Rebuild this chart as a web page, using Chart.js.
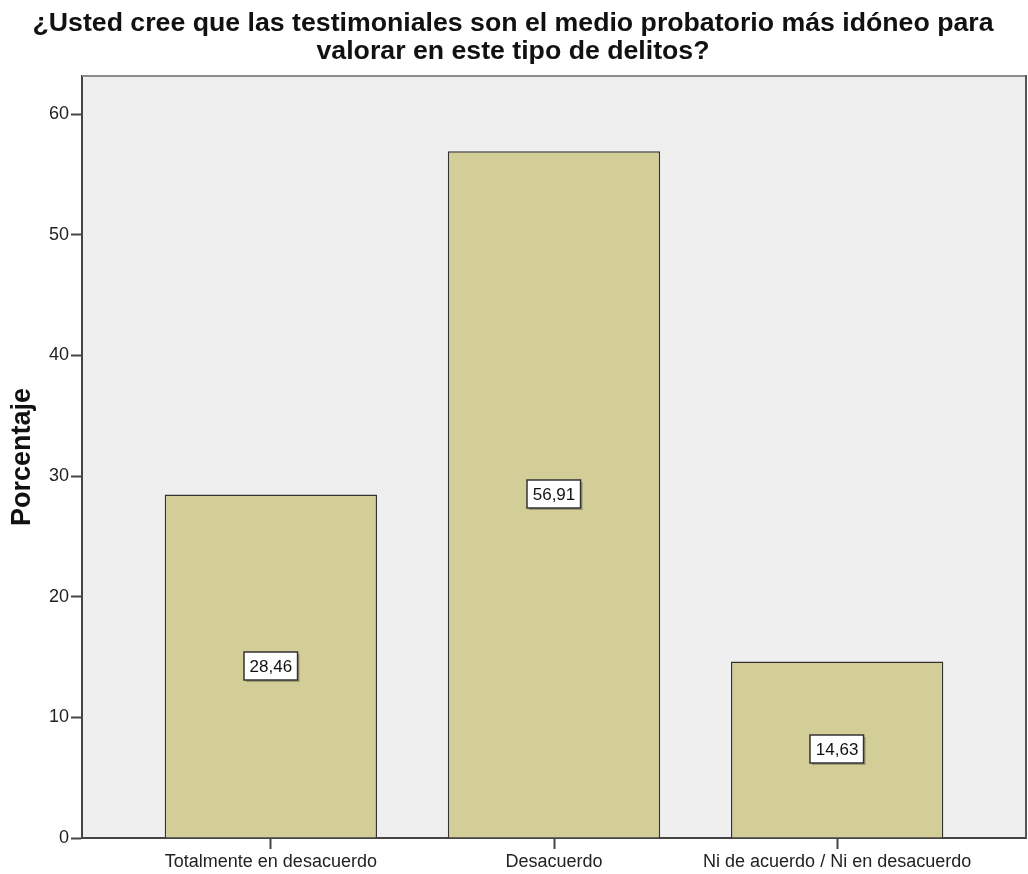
<!DOCTYPE html>
<html>
<head>
<meta charset="utf-8">
<script src="https://cdn.jsdelivr.net/npm/chart.js@4.4.1/dist/chart.umd.min.js"></script>
<style>
  html, body { margin: 0; padding: 0; background: #fff; }
  #wrap { width: 1028px; height: 874px; position: relative; }
</style>
</head>
<body>
<div id="wrap"><canvas id="chart"></canvas></div>
<script>
const titleLines = [
  '¿Usted cree que las testimoniales son el medio probatorio más idóneo para',
  'valorar en este tipo de delitos?',
];
const categories = ['Totalmente en desacuerdo', 'Desacuerdo', 'Ni de acuerdo / Ni en desacuerdo'];
const percentages = [28.46, 56.91, 14.63];
const yTicks = [0, 10, 20, 30, 40, 50, 60];
const yTitle = 'Porcentaje';

const FONT = "'Liberation Sans', Arial, sans-serif";

// plot background + top/right frame lines
const framePlugin = {
  id: 'frame',
  beforeDraw(chart) {
    const { ctx, chartArea: a } = chart;
    ctx.save();
    ctx.fillStyle = '#efefef';
    ctx.fillRect(a.left, a.top, a.right - a.left, a.bottom - a.top);
    ctx.restore();
  },
  afterDraw(chart) {
    const { ctx, chartArea: a } = chart;
    ctx.save();
    ctx.lineWidth = 2;
    ctx.strokeStyle = '#8c8c8c';
    ctx.beginPath();
    ctx.moveTo(a.left, a.top);
    ctx.lineTo(a.right, a.top);
    ctx.stroke();
    ctx.strokeStyle = '#555';
    ctx.beginPath();
    ctx.moveTo(a.right, a.top - 1);
    ctx.lineTo(a.right, a.bottom);
    ctx.stroke();
    ctx.restore();
  },
};

// value boxes in the middle of each bar
const boxLabels = {
  id: 'boxLabels',
  afterDatasetsDraw(chart) {
    const { ctx } = chart;
    const meta = chart.getDatasetMeta(0);
    ctx.save();
    ctx.font = '17px ' + FONT;
    ctx.textAlign = 'center';
    ctx.textBaseline = 'middle';
    meta.data.forEach((bar, i) => {
      const txt = percentages[i].toFixed(2).replace('.', ',');
      const w = ctx.measureText(txt).width + 11;
      const h = 28;
      const cx = bar.x;
      const cy = (bar.y + bar.base) / 2;
      const x = Math.round(cx - w / 2);
      const y = Math.round(cy - h / 2);
      ctx.fillStyle = 'rgba(0,0,0,0.25)';
      ctx.fillRect(x + 2, y + 2, w, h);
      ctx.fillStyle = '#fff';
      ctx.fillRect(x, y, w, h);
      ctx.lineWidth = 1.5;
      ctx.strokeStyle = '#333';
      ctx.strokeRect(x, y, w, h);
      ctx.fillStyle = '#111';
      ctx.fillText(txt, cx, cy + 1);
    });
    ctx.restore();
  },
};

new Chart(document.getElementById('chart'), {
  type: 'bar',
  data: {
    datasets: [{
      data: categories.map((c, i) => ({ x: i, y: percentages[i] })),
      backgroundColor: '#d3ce97',
      borderColor: '#333',
      borderWidth: 1.5,
      barPercentage: 0.75,
      categoryPercentage: 1,
    }],
  },
  options: {
    responsive: true,
    maintainAspectRatio: false,
    animation: false,
    layout: { padding: { left: 0, right: 2, top: 0, bottom: 0 } },
    plugins: {
      legend: { display: false },
      tooltip: { enabled: false },
      title: {
        display: true,
        text: titleLines,
        color: '#111',
        font: { family: FONT, size: 26.7, weight: 'bold', lineHeight: 1.05 },
        padding: { top: 10, bottom: 10 },
      },
    },
    scales: {
      x: {
        type: 'linear',
        offset: false,
        min: -0.667,
        max: 2.667,
        afterBuildTicks(scale) {
          scale.ticks = categories.map((c, i) => ({ value: i }));
        },
        afterFit(scale) { scale.height = 36; },
        ticks: {
          callback: (v) => categories[v],
          color: '#222',
          font: { family: FONT, size: 18 },
          padding: 2,
          maxRotation: 0,
          autoSkip: false,
        },
        grid: { offset: false, drawOnChartArea: false, drawTicks: true, tickLength: 11, tickColor: '#444', tickWidth: 2 },
        border: { color: '#444', width: 2 },
      },
      y: {
        min: 0,
        max: 63.15,
        afterBuildTicks(scale) {
          scale.ticks = yTicks.map((v) => ({ value: v }));
        },
        afterFit(scale) { scale.width = 82; },
        ticks: {
          color: '#222',
          font: { family: FONT, size: 18 },
          padding: 2,
        },
        grid: { drawOnChartArea: false, drawTicks: true, tickLength: 11, tickColor: '#444', tickWidth: 2 },
        border: { color: '#444', width: 2 },
        title: {
          display: true,
          text: yTitle,
          color: '#111',
          font: { family: FONT, size: 27, weight: 'bold', lineHeight: 1.2 },
          padding: { top: 6, bottom: 0 },
        },
      },
    },
  },
  plugins: [framePlugin, boxLabels],
});
</script>
</body>
</html>
